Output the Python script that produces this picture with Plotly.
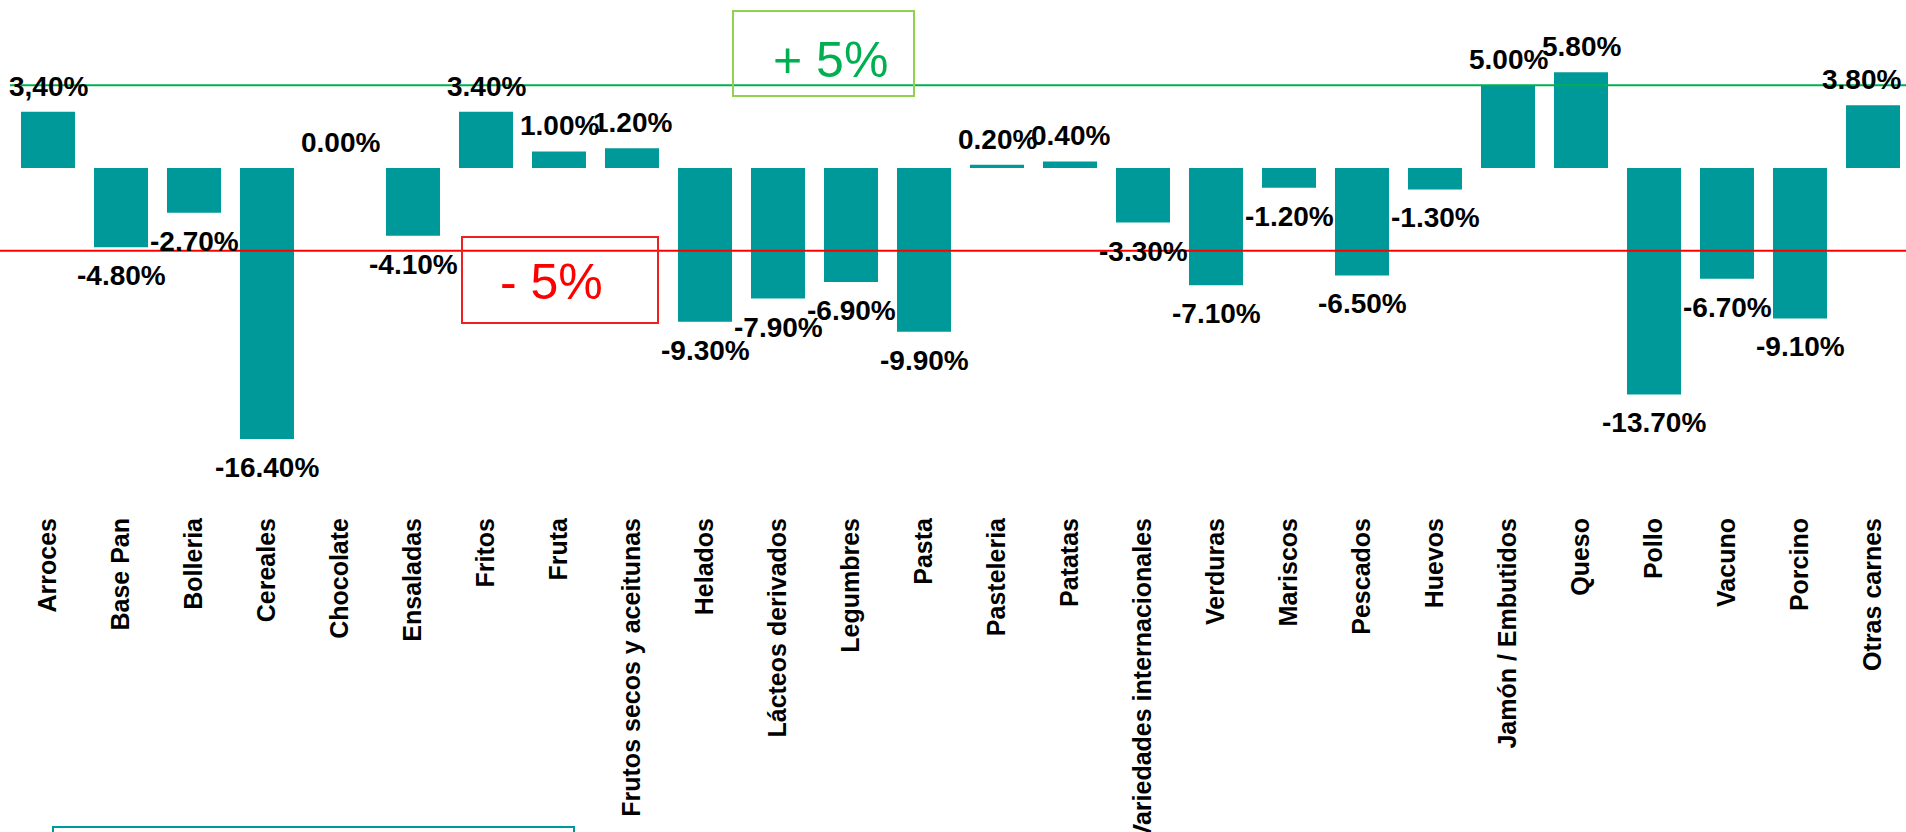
import plotly.graph_objects as go

categories = ["Arroces", "Base Pan", "Bolleria", "Cereales", "Chocolate", "Ensaladas",
              "Fritos", "Fruta", "Frutos secos y aceitunas", "Helados", "Lácteos derivados",
              "Legumbres", "Pasta", "Pasteleria", "Patatas", "Variedades internacionales",
              "Verduras", "Mariscos", "Pescados", "Huevos", "Jamón / Embutidos", "Queso",
              "Pollo", "Vacuno", "Porcino", "Otras carnes"]
values = [3.4, -4.8, -2.7, -16.4, 0.0, -4.1, 3.4, 1.0, 1.2, -9.3, -7.9, -6.9, -9.9,
          0.2, 0.4, -3.3, -7.1, -1.2, -6.5, -1.3, 5.0, 5.8, -13.7, -6.7, -9.1, 3.8]
value_labels = ["3,40%", "-4.80%", "-2.70%", "-16.40%", "0.00%", "-4.10%", "3.40%", "1.00%",
                "1.20%", "-9.30%", "-7.90%", "-6.90%", "-9.90%", "0.20%", "0.40%", "-3.30%",
                "-7.10%", "-1.20%", "-6.50%", "-1.30%", "5.00%", "5.80%", "-13.70%", "-6.70%",
                "-9.10%", "3.80%"]
upper_limit = 5
lower_limit = -5
upper_text = "+ 5%"
lower_text = "- 5%"

W, H = 1906, 832
L, R, T, B = 10, 0, 0, 325
plot_w = W - L - R
plot_h = H - T - B
px_per_unit = 16.53
zero_px = 168
y_top = zero_px / px_per_unit
y_bot = -(plot_h - zero_px) / px_per_unit

cat_px = 73.0
first_center_px = 48
x_lo = -(first_center_px - L) / cat_px
x_hi = x_lo + plot_w / cat_px

FONT = "Liberation Sans, Arial, Helvetica, sans-serif"
TEAL = "#009999"

fig = go.Figure()
fig.add_trace(go.Bar(x=categories, y=values, marker=dict(color=TEAL, line=dict(width=0)),
                     hoverinfo="x+y"))

annotations = []
n = len(categories)
for i, (c, v, t) in enumerate(zip(categories, values, value_labels)):
    pos = v >= 0
    annotations.append(dict(x=c, y=v, xref="x", yref="y", text="<b>%s</b>" % t,
                            showarrow=False, yanchor="bottom" if pos else "top",
                            xshift=-12 if i == n - 1 else 0,
                            yshift=8 if pos else -11,
                            font=dict(family=FONT, size=28, color="black")))


def px_to_paper_x(px):
    return (px - L) / plot_w


def px_to_paper_y(py):
    return (T + plot_h - py) / plot_h


shapes = [
    dict(type="line", xref="paper", yref="y", x0=px_to_paper_x(10), x1=1.0,
         y0=upper_limit, y1=upper_limit, line=dict(color="#00B050", width=2)),
    dict(type="line", xref="paper", yref="y", x0=px_to_paper_x(0), x1=1.0,
         y0=lower_limit, y1=lower_limit, line=dict(color="#FF0000", width=2)),
    dict(type="rect", xref="paper", yref="paper", x0=px_to_paper_x(733), x1=px_to_paper_x(914),
         y0=px_to_paper_y(96), y1=px_to_paper_y(11), line=dict(color="#92D050", width=2)),
    dict(type="rect", xref="paper", yref="paper", x0=px_to_paper_x(462), x1=px_to_paper_x(658),
         y0=px_to_paper_y(323), y1=px_to_paper_y(237), line=dict(color="#F02020", width=2)),
    dict(type="rect", xref="paper", yref="paper", x0=px_to_paper_x(53), x1=px_to_paper_x(574),
         y0=px_to_paper_y(860), y1=px_to_paper_y(827), line=dict(color=TEAL, width=2)),
]

annotations.append(dict(xref="paper", yref="paper", x=px_to_paper_x(830), y=px_to_paper_y(60),
                        text=upper_text, showarrow=False, xanchor="center", yanchor="middle",
                        font=dict(family=FONT, size=50, color="#00B050")))
annotations.append(dict(xref="paper", yref="paper", x=px_to_paper_x(551), y=px_to_paper_y(282),
                        text=lower_text, showarrow=False, xanchor="center", yanchor="middle",
                        font=dict(family=FONT, size=50, color="#FF0000")))

fig.update_layout(
    width=W, height=H,
    margin=dict(l=L, r=R, t=T, b=B, pad=0, autoexpand=False),
    plot_bgcolor="white", paper_bgcolor="white",
    bargap=0.26, showlegend=False,
    shapes=shapes, annotations=annotations,
    xaxis=dict(type="category", range=[x_lo, x_hi], tickangle=-90, showgrid=False,
               zeroline=False, showline=False,
               ticks="", ticklabelstandoff=5, automargin=False,
               tickfont=dict(family=FONT, size=25, color="black"),
               tickprefix="<b>", ticksuffix="</b>"),
    yaxis=dict(range=[y_bot, y_top], showgrid=False, zeroline=False, showline=False,
               showticklabels=False, ticks="", automargin=False),
)

fig.write_html("out.html", config={"displayModeBar": False},
               post_script="document.body.style.margin='0';document.body.style.padding='0';"
                           "document.body.style.overflow='hidden';")
